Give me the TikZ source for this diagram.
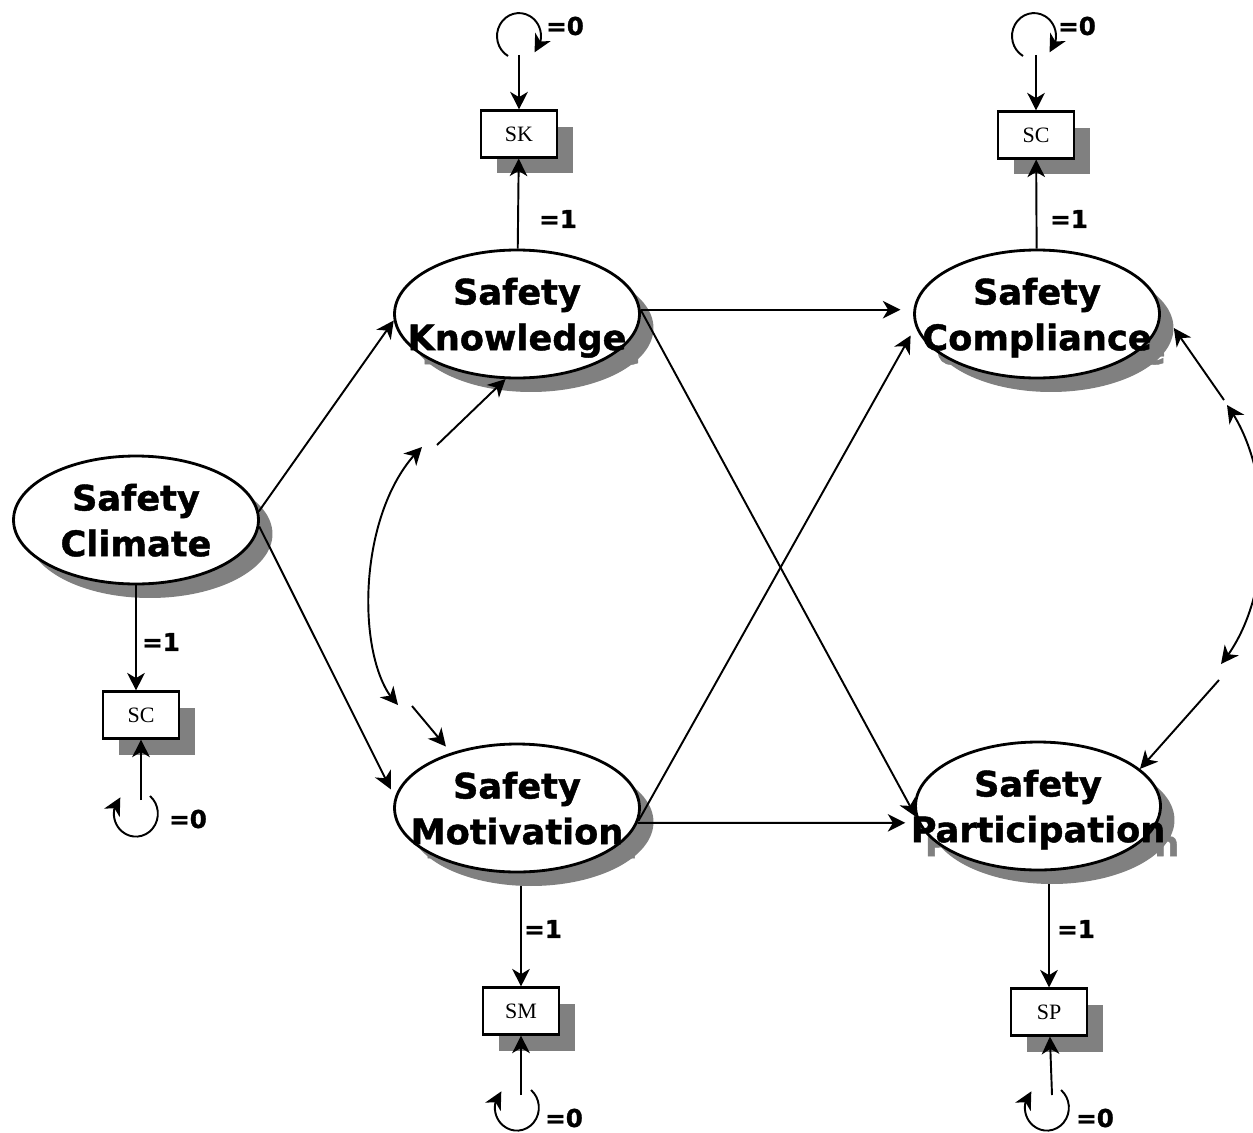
\documentclass[tikz,border=0pt]{standalone}
\usepackage{fontspec}
\setmainfont{Liberation Serif}
\newfontfamily\amosfont{DejaVu Sans}[BoldFeatures={FakeBold=1.2}]
\usetikzlibrary{arrows.meta,bending,shapes.geometric}

\begin{document}
\begin{tikzpicture}[x=0.02cm,y=-0.02cm,
		latent/.style={ellipse, draw, line width=1.6pt, fill=white, minimum width=4.9cm, minimum height=2.56cm, inner sep=0pt},
		latentS/.style={ellipse, fill=black!50, minimum width=4.9cm, minimum height=2.56cm, inner sep=0pt},
		ltext/.style={font=\amosfont\bfseries\fontsize{20}{26}\selectfont, align=center, inner sep=0pt, text depth=0pt},
		ltextS/.style={ltext, text=black!50},
		obs/.style={rectangle, draw, line width=1.2pt, fill=white, minimum width=1.52cm, minimum height=0.94cm, inner sep=0pt, font=\fontsize{12.5}{14}\selectfont},
		obsS/.style={rectangle, fill=black!50, minimum width=1.52cm, minimum height=0.94cm, inner sep=0pt},
		conn/.style={line width=1.1pt, -{Stealth[length=10pt,width=10pt,inset=3pt]}},
		cov/.style={line width=1.1pt, {Stealth[length=10pt,width=10pt,inset=3pt]}-{Stealth[length=10pt,width=10pt,inset=3pt]}},
		wt/.style={font=\amosfont\bfseries\fontsize{14}{16}\selectfont, inner sep=0pt}]

	\useasboundingbox (0,0) rectangle (1253,1132);

	\node[latentS] (climS) at (150,534) {};
	\node[ltextS] at (climS) {Safety\\Climate};
	\node[latentS] (knowS) at (531,328) {};
	\node[ltextS] at (knowS) {Safety\\Knowledge};
	\node[latentS] (motS) at (531,822) {};
	\node[ltextS] at (motS) {Safety\\Motivation};
	\node[latentS] (compS) at (1051,328) {};
	\node[ltextS] at (compS) {Safety\\Compliance};
	\node[latentS] (partS) at (1052,820) {};
	\node[ltextS] at (partS) {Safety\\Participation};

	\node[latent] (clim) at (136,520) {};
	\node[ltext] at (clim) {Safety\\Climate};
	\node[latent] (know) at (517,314) {};
	\node[ltext] at (know) {Safety\\Knowledge};
	\node[latent] (mot) at (517,808) {};
	\node[ltext] at (mot) {Safety\\Motivation};
	\node[latent] (comp) at (1037,314) {};
	\node[ltext] at (comp) {Safety\\Compliance};
	\node[latent] (part) at (1038,806) {};
	\node[ltext] at (part) {Safety\\Participation};

	\node[obsS] (skS) at (535,150) {};
	\node[obs] (sk) at (519,134) {SK};
	\node[obsS] (scTS) at (1052,151) {};
	\node[obs] (scT) at (1036,135) {SC};
	\node[obsS] (scLS) at (157,731) {};
	\node[obs] (scL) at (141,715) {SC};
	\node[obsS] (smS) at (537,1027) {};
	\node[obs] (sm) at (521,1011) {SM};
	\node[obsS] (spS) at (1065,1028) {};
	\node[obs] (sp) at (1049,1012) {SP};

	\coordinate (skE) at (519,55);
	\coordinate (skL) at (508,56);
	\coordinate (scTE) at (1036,55);
	\coordinate (scTL) at (1023,56);
	\coordinate (scLE) at (141,800);
	\coordinate (scLL) at (150,796);
	\coordinate (smE) at (521,1095);
	\coordinate (smL) at (531,1090);
	\coordinate (spE) at (1052,1095);
	\coordinate (spL) at (1061,1090);

	\draw[conn] (skL) arc[start angle=240, end angle=-45, x radius=0.44cm, y radius=0.46cm];
	\draw[conn] (scTL) arc[start angle=240, end angle=-45, x radius=0.44cm, y radius=0.46cm];
	\draw[conn] (scLL) arc[start angle=50, end angle=-225, x radius=0.44cm, y radius=0.46cm];
	\draw[conn] (smL) arc[start angle=50, end angle=-225, x radius=0.44cm, y radius=0.46cm];
	\draw[conn] (spL) arc[start angle=50, end angle=-225, x radius=0.44cm, y radius=0.46cm];

	\draw[conn] (skE) -- (sk);
	\draw[conn] (scTE) -- (scT);
	\draw[conn] (scLE) -- (scL);
	\draw[conn] (smE) -- (sm);
	\draw[conn] (spE) -- (sp);

	\draw[conn] (know) -- (sk);
	\draw[conn] (comp) -- (scT);
	\draw[conn] (clim.south) -- (clim.south |- scL.north);
	\draw[conn] (sm.north |- motS.south) -- (sm.north);
	\draw[conn] (sp.north |- partS.south) -- (sp.north);

	\node[wt] (skZ) at (565,26) {=0};
	\node[wt] (scTZ) at (1077,26) {=0};
	\node[wt] (scLZ) at (188,819) {=0};
	\node[wt] (smZ) at (564,1118) {=0};
	\node[wt] (spZ) at (1095,1118) {=0};
	\node[wt] (skO) at (558,219) {=1};
	\node[wt] (scTO) at (1069,219) {=1};
	\node[wt] (scLO) at (161,642) {=1};
	\node[wt] (smO) at (543,929) {=1};
	\node[wt] (spO) at (1076,929) {=1};

	\draw[conn] (clim.4) -- (know.183);
	\draw[conn, shorten >=0.18cm] (clim.-3) -- (mot.175);
	\draw[conn, shorten >=0.26cm] (know.2) -- (comp.178);
	\draw[conn] (know.2) -- (part.185);
	\draw[conn, shorten >=0.2cm] (mot.-6) -- (comp.186);
	\draw[conn, shorten >=0.26cm] (mot.-7) -- (part.188);

	\coordinate (kmA) at (422,447);
	\coordinate (kmB) at (398,705);
	\coordinate (kmC) at (437,445);
	\coordinate (kmD) at (412,706);
	\draw[cov] (kmA) .. controls (355,510) and (355,665) .. (kmB);
	\draw[conn] (kmC) -- (know.260);
	\draw[conn, shorten >=0.16cm] (kmD) -- (mot.140);

	\coordinate (cpA) at (1227,405);
	\coordinate (cpB) at (1221,664);
	\coordinate (cpC) at (1224,400);
	\coordinate (cpD) at (1219,680);
	\draw[cov] (cpA) .. controls (1275,470) and (1275,600) .. (cpB);
	\draw[conn] (cpC) -- (compS.east);
	\draw[conn] (cpD) -- (part.20);
\end{tikzpicture}
\end{document}
